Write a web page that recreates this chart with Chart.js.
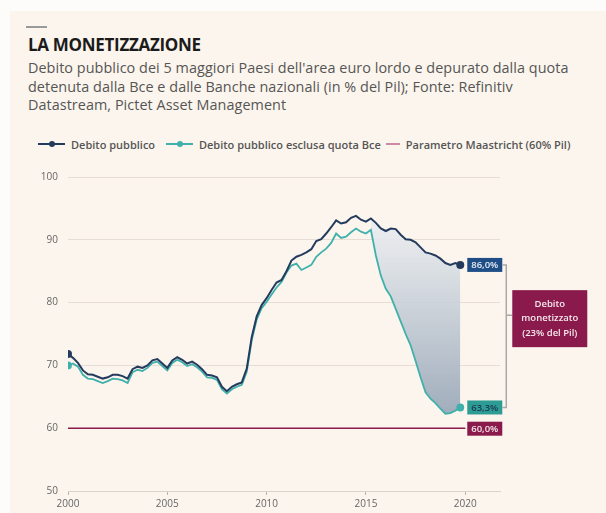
<!DOCTYPE html>
<html>
<head>
<meta charset="utf-8">
<script src="https://cdn.jsdelivr.net/npm/chart.js@4"></script>
<style>
  body { margin: 0; background: #fefcfa; font-family: "Open Sans", sans-serif; }
  #card { position: absolute; left: 10px; top: 11px; width: 596px; height: 502px; background: #fcf5ed; }
  #rule { position: absolute; left: 26px; top: 26px; width: 21px; height: 2px; background: #9a9a9a; }
  #title { position: absolute; left: 28px; top: 33px; font: 700 17px "Open Sans"; color: #1b1b1b; letter-spacing: -0.3px; }
  #sub { position: absolute; left: 28px; top: 59px; font: 14.4px/18.5px "Open Sans"; color: #555; letter-spacing: 0.05px; }
  #legend { position: absolute; left: 38px; top: 135px; font: 600 11px "Open Sans"; color: #555; white-space: nowrap; }
  #legend span { display: inline-block; vertical-align: middle; }
  .smp { position: relative; width: 27px; height: 2px; margin-right: 6px; }
  .smp i { position: absolute; left: 11px; top: -2px; width: 6px; height: 6px; border-radius: 50%; }
  canvas { position: absolute; left: 0; top: 160px; }
</style>
</head>
<body>
<div id="card"></div>
<div id="rule"></div>
<div id="title">LA MONETIZZAZIONE</div>
<div id="sub">Debito pubblico dei 5 maggiori Paesi dell'area euro lordo e depurato dalla quota<br>detenuta dalla Bce e dalle Banche nazionali (in % del Pil); Fonte: Refinitiv<br>Datastream, Pictet Asset Management</div>
<div id="legend">
  <span class="smp" style="background:#243b5e"><i style="background:#243b5e"></i></span><span>Debito pubblico</span>
  <span class="smp" style="background:#3fb0aa;margin-left:8px"><i style="background:#3fb0aa"></i></span><span>Debito pubblico esclusa quota Bce</span>
  <span class="smp" style="background:#c98aa5;width:14px;margin-left:2px"></span><span>Parametro Maastricht (60% Pil)</span>
</div>
<canvas id="chart" width="606" height="353"></canvas>
<script>
// quarterly observations, 2000 Q1 .. 2019 Q4
const quarters = Array.from({ length: 80 }, (_, i) => 2000 + i / 4);

const debito = [
  71.8, 71.2, 70.4, 69.2, 68.6, 68.5, 68.2, 67.9, 68.1, 68.5,
  68.5, 68.3, 67.9, 69.4, 69.8, 69.6, 70.0, 70.8, 71.0, 70.3,
  69.6, 70.8, 71.3, 70.9, 70.3, 70.6, 70.1, 69.4, 68.5, 68.4,
  68.1, 66.6, 65.9, 66.6, 67.0, 67.3, 69.5, 74.5, 77.8, 79.6,
  80.7, 82.0, 83.2, 83.6, 85.0, 86.7, 87.3, 87.6, 88.0, 88.5,
  89.8, 90.1, 91.0, 92.0, 93.1, 92.6, 92.8, 93.5, 93.8, 93.2,
  92.9, 93.4, 92.7, 91.8, 91.4, 91.8, 91.7, 90.8, 90.1, 90.0,
  89.6, 88.8, 88.0, 87.8, 87.5, 87.0, 86.3, 86.0, 86.3, 86.0
];

const debitoExBce = [
  70.0, 70.3, 69.8, 68.5, 67.9, 67.8, 67.5, 67.2, 67.5, 67.9,
  67.8, 67.6, 67.2, 68.9, 69.3, 69.1, 69.6, 70.4, 70.6, 69.9,
  69.2, 70.4, 70.9, 70.5, 69.9, 70.2, 69.7, 69.0, 68.1, 68.0,
  67.7, 66.2, 65.5, 66.2, 66.6, 66.9, 69.0, 74.0, 77.3, 79.1,
  80.1, 81.3, 82.4, 83.3, 84.8, 85.9, 86.2, 85.2, 85.6, 86.0,
  87.3, 88.0, 88.6, 89.5, 91.0, 90.3, 90.5, 91.2, 91.8, 91.3,
  91.0, 91.6, 87.5, 84.3, 82.2, 81.0, 79.0, 77.0, 75.0, 73.2,
  70.7, 68.1, 65.7, 64.7, 64.0, 63.1, 62.3, 62.4, 62.8, 63.3
];

const maastrichtYears = [2000, 2020];
const maastricht = [60, 60];

const areaFrom = 2015.25; // shaded gap starts at the QE divergence

const xTicks = [2000, 2005, 2010, 2015, 2020];
const yTicks = [50, 60, 70, 80, 90, 100];
const yTickLabels = ['50', '60', '70', '80', '90', '100'];

const navy = '#243b5e', teal = '#3fb0aa', maroon = '#8a1a4b';

const pts = (xs, ys) => xs.map((x, i) => ({ x, y: ys[i] }));
const endDots = ctx => (ctx.dataIndex === 0 || ctx.dataIndex === ctx.dataset.data.length - 1) ? 3 : 0;
const fmt = v => v.toFixed(1).replace('.', ',') + '%';

const labelsPlugin = {
  id: 'endLabels',
  afterDatasetsDraw(chart) {
    const c = chart.ctx;
    const y = chart.scales.y;
    const box = (text, x, yc, bg, fg) => {
      c.fillStyle = bg;
      c.fillRect(x, yc - 7, 35, 14);
      c.fillStyle = fg;
      c.font = '600 9.5px "Open Sans"';
      c.textAlign = 'center';
      c.textBaseline = 'middle';
      c.fillText(text, x + 17.5, yc + 0.5);
    };
    const last = i => {
      const m = chart.getDatasetMeta(i).data;
      return m[m.length - 1];
    };
    const p0 = last(0), p1 = last(1);
    const bx = p0.x + 7;
    box(fmt(debito[debito.length - 1]), bx, p0.y, '#1f4d85', '#e8eef6');
    box(fmt(debitoExBce[debitoExBce.length - 1]), bx, p1.y, '#2c9c95', '#1d3a50');
    const y60 = y.getPixelForValue(maastricht[1]);
    box(fmt(maastricht[1]), bx, y60 + 0.5, maroon, '#f4e6ec');

    // bracket
    const lx = bx + 39;
    c.strokeStyle = '#a9a9a9';
    c.lineWidth = 1.5;
    c.beginPath();
    c.moveTo(bx + 35, p0.y); c.lineTo(lx, p0.y); c.lineTo(lx, p1.y); c.lineTo(bx + 35, p1.y);
    const mid = y.getPixelForValue(78);
    c.moveTo(lx, mid); c.lineTo(lx + 6, mid);
    c.stroke();

    const gap = Math.round(debito[debito.length - 1] - debitoExBce[debitoExBce.length - 1]);
    const mx = lx + 6, mw = 75, mt = mid - 25, mh = 57;
    c.fillStyle = maroon;
    c.fillRect(mx, mt, mw, mh);
    c.fillStyle = '#f6e9ef';
    c.font = '600 9.5px "Open Sans"';
    c.textAlign = 'center';
    c.textBaseline = 'middle';
    ['Debito', 'monetizzato', '(' + gap + '% del Pil)'].forEach((t, i) => {
      c.fillText(t, mx + mw / 2, mt + 14 + i * 14.5);
    });
  }
};

new Chart(document.getElementById('chart'), {
  type: 'line',
  data: {
    datasets: [
      {
        label: 'Debito pubblico',
        data: pts(quarters, debito),
        borderColor: navy,
        backgroundColor: navy,
        borderWidth: 2,
        pointRadius: endDots,
        tension: 0,
        fill: false
      },
      {
        label: 'Debito pubblico esclusa quota Bce',
        data: pts(quarters, debitoExBce),
        borderColor: teal,
        backgroundColor: teal,
        borderWidth: 1.8,
        pointRadius: endDots,
        tension: 0,
        fill: false
      },
      {
        label: 'Parametro Maastricht (60% Pil)',
        data: pts(maastrichtYears, maastricht),
        borderColor: maroon,
        borderWidth: 1.5,
        pointRadius: 0,
        fill: false
      },
      {
        label: 'gap',
        data: pts(quarters, debitoExBce).filter(p => p.x >= areaFrom),
        borderWidth: 0,
        pointRadius: 0,
        fill: '-3',
        backgroundColor: ctx => {
          const { chart } = ctx;
          if (!chart.chartArea) return 'rgba(160,172,186,0.6)';
          const y = chart.scales.y;
          const g = chart.ctx.createLinearGradient(0, y.getPixelForValue(94), 0, y.getPixelForValue(62));
          g.addColorStop(0, 'rgba(238,240,242,0.9)');
          g.addColorStop(1, 'rgba(155,168,185,0.95)');
          return g;
        }
      }
    ]
  },
  options: {
    responsive: false,
    animation: false,
    layout: { padding: { top: 17, right: 106, left: 0, bottom: 0 } },
    plugins: { legend: { display: false }, tooltip: { enabled: false } },
    scales: {
      x: {
        type: 'linear',
        min: 2000,
        max: 2021.75,
        afterBuildTicks: s => { s.ticks = xTicks.map(v => ({ value: v })); },
        afterFit: s => { s.height = 22; },
        ticks: { color: '#666', font: { family: 'Open Sans', size: 10 }, padding: 3, callback: v => String(v), maxRotation: 0 },
        grid: { drawOnChartArea: false, tickLength: 4, color: '#b9b4ae' },
        border: { display: true, color: '#d9d3cc' }
      },
      y: {
        min: 50,
        max: 100,
        afterBuildTicks: s => { s.ticks = yTicks.map(v => ({ value: v })); },
        afterFit: s => { s.width = 68; },
        ticks: {
          color: '#666',
          font: { family: 'Open Sans', size: 10 },
          padding: 10,
          callback: v => yTickLabels[yTicks.indexOf(v)]
        },
        grid: { drawTicks: false, color: '#e6ded6' },
        border: { display: false }
      }
    }
  },
  plugins: [labelsPlugin]
});
</script>
</body>
</html>
